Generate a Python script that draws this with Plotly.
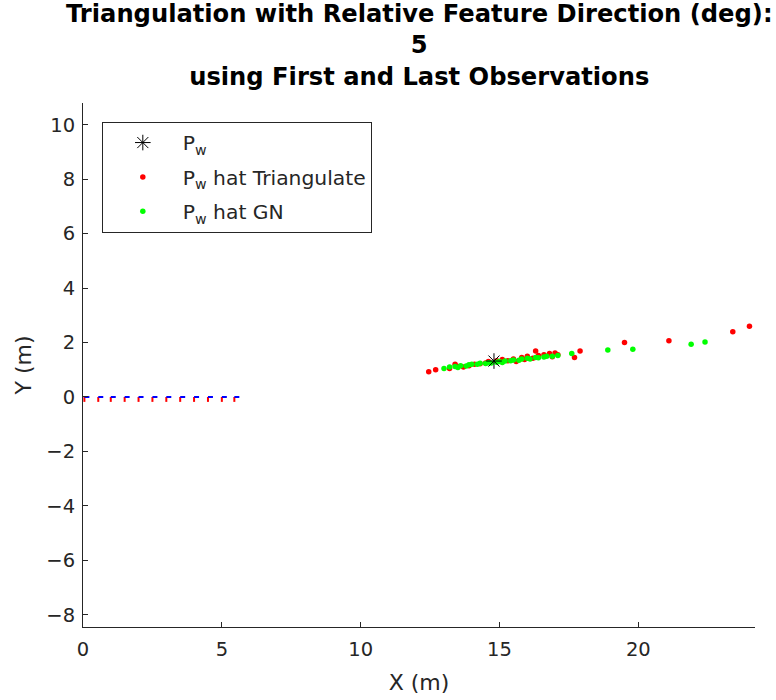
import plotly.graph_objects as go

# ---- data ----
pw_x = [14.8]
pw_y = [1.32]

tri_x = [12.45, 12.7, 13.2, 13.4, 13.5, 13.7, 13.9, 14.1, 14.3, 14.5, 14.6, 14.9, 15.1, 15.3,
         15.5, 15.6, 15.8, 15.9, 16.0, 16.2, 16.3, 16.4, 16.6, 16.8, 16.9, 17.0, 17.1, 17.7,
         17.9, 19.5, 21.1, 23.4, 24.0]
tri_y = [0.93, 1.0, 1.05, 1.2, 1.12, 1.1, 1.15, 1.2, 1.22, 1.25, 1.3, 1.33, 1.38, 1.33,
         1.4, 1.3, 1.45, 1.38, 1.5, 1.42, 1.69, 1.52, 1.55, 1.6, 1.48, 1.62, 1.55, 1.45,
         1.69, 2.0, 2.07, 2.4, 2.6]

gn_x = [13.0, 13.2, 13.4, 13.5, 13.6, 13.8, 13.9, 14.0, 14.2, 14.3, 14.5, 14.6, 14.7, 14.9,
        15.0, 15.1, 15.2, 15.4, 15.5, 15.7, 15.8, 16.0, 16.1, 16.3, 16.4, 16.6, 16.7, 16.9,
        17.1, 17.6, 18.9, 19.8, 21.9, 22.4]
gn_y = [1.05, 1.1, 1.12, 1.08, 1.15, 1.14, 1.18, 1.2, 1.2, 1.24, 1.23, 1.26, 1.25, 1.28,
        1.3, 1.27, 1.32, 1.33, 1.36, 1.35, 1.4, 1.42, 1.4, 1.45, 1.44, 1.47, 1.5, 1.5,
        1.52, 1.6, 1.73, 1.75, 1.94, 2.02]

cam_x = [0.05, 0.55, 1.0, 1.5, 2.0, 2.5, 3.0, 3.5, 4.0, 4.5, 5.0, 5.45]
cam_y = [0.0] * 12
cam_axis_len = 0.18

x_ticks = [0, 5, 10, 15, 20]
y_ticks = [-8, -6, -4, -2, 0, 2, 4, 6, 8, 10]

title_lines = ["Triangulation with Relative Feature Direction (deg):", "5",
               "using First and Last Observations"]

# ---- build camera glyphs ----
bx, by, rx, ry = [], [], [], []
for cx, cy in zip(cam_x, cam_y):
    bx += [cx, cx + cam_axis_len, None]
    by += [cy, cy, None]
    rx += [cx, cx, None]
    ry += [cy, cy - cam_axis_len, None]

fig = go.Figure()
fig.add_trace(go.Scatter(x=rx, y=ry, mode="lines", line=dict(color="#ff0000", width=2),
                         showlegend=False, hoverinfo="skip"))
fig.add_trace(go.Scatter(x=bx, y=by, mode="lines", line=dict(color="#0000ff", width=2),
                         showlegend=False, hoverinfo="skip"))
fig.add_trace(go.Scatter(x=tri_x, y=tri_y, mode="markers", name="P<sub>w</sub> hat Triangulate",
                         marker=dict(color="#ff0000", size=5.5), legendrank=2, legendgroup="b"))
fig.add_trace(go.Scatter(x=gn_x, y=gn_y, mode="markers", name="P<sub>w</sub> hat GN",
                         marker=dict(color="#00ff00", size=5.5), legendrank=3, legendgroup="c"))
fig.add_trace(go.Scatter(x=pw_x, y=pw_y, mode="markers", name="P<sub>w</sub>",
                         marker=dict(symbol="asterisk-open", color="black", size=13,
                                     line=dict(color="black", width=1)),
                         legendrank=1, legendgroup="a"))

axis_common = dict(
    showline=True, linecolor="#262626", linewidth=1,
    ticks="inside", ticklen=5, tickcolor="#262626",
    showgrid=False, zeroline=False, mirror=False, automargin=False,
    tickfont=dict(family="DejaVu Sans", size=19.5, color="#262626"),
)

fig.add_annotation(
    text="<br>".join(title_lines), xref="paper", yref="paper", x=0.5, y=1,
    xanchor="center", yanchor="bottom", yshift=10, showarrow=False,
    font=dict(family="DejaVu Sans", size=24.2, color="black", weight="bold"),
)

fig.update_layout(
    width=776, height=700,
    margin=dict(l=83, r=21, t=103, b=73),
    paper_bgcolor="white", plot_bgcolor="white",
    xaxis=dict(range=[0, 24.2], tickvals=x_ticks, ticklabelstandoff=5,
               title=dict(text="X (m)", font=dict(family="DejaVu Sans", size=22, color="#262626"),
                          standoff=14),
               **axis_common),
    yaxis=dict(range=[-8.45, 10.8], tickvals=y_ticks, ticklabelstandoff=3,
               title=dict(text="Y (m)", font=dict(family="DejaVu Sans", size=22, color="#262626"),
                          standoff=8),
               **axis_common),
    legend=dict(x=0.028, y=0.964, xanchor="left", yanchor="top",
                bgcolor="white", bordercolor="#262626", borderwidth=1,
                font=dict(family="DejaVu Sans", size=20.3, color="#262626"),
                itemsizing="trace", itemwidth=70, traceorder="grouped", tracegroupgap=5),
    showlegend=True,
)

fig.write_html("out.html")
